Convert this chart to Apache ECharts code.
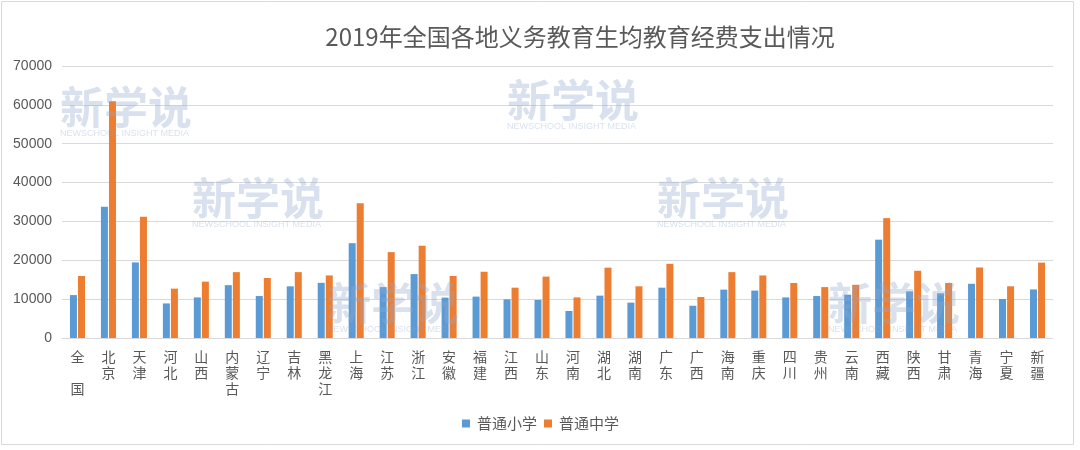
<!DOCTYPE html>
<html>
<head>
<meta charset="utf-8">
<script src="https://cdn.jsdelivr.net/npm/echarts@6/dist/echarts.min.js"></script>
<style>
html,body{margin:0;padding:0;background:#fff;}
#chart{width:1080px;height:450px;}
</style>
</head>
<body>
<div id="chart"></div>
<script>
var titleText = '2019年全国各地义务教育生均教育经费支出情况';
var categories = ['全 国','北京','天津','河北','山西','内蒙古','辽宁','吉林','黑龙江','上海','江苏','浙江','安徽','福建','江西','山东','河南','湖北','湖南','广东','广西','海南','重庆','四川','贵州','云南','西藏','陕西','甘肃','青海','宁夏','新疆'];
var primary = [11050,33800,19450,8900,10450,13600,10800,13300,14200,24400,13100,16450,10400,10650,9950,9800,6950,10900,9100,12950,8300,12450,12200,10450,10800,11150,25300,12000,11500,13950,10050,12500];
var secondary = [15950,60900,31200,12700,14500,16950,15450,16950,16100,34700,22100,23750,15950,17050,12950,15800,10450,18100,13300,19100,10550,16950,16100,14150,13100,13700,30850,17300,14150,18150,13300,19400];
var seriesNames = ['普通小学','普通中学'];
var yTicks = [0,10000,20000,30000,40000,50000,60000,70000];

var chart = echarts.init(document.getElementById('chart'));
var FONT = '"Noto Sans CJK SC", "Noto Sans", sans-serif';
var wmPos = [[60,92],[192,183],[507,85],[657,183],[327,288],[828,288]];
var graphics = [{
  type:'rect', shape:{x:1.5,y:1.5,width:1072,height:443},
  style:{fill:'none',stroke:'#d9d9d9',lineWidth:1}, z:0, silent:true
}];
wmPos.forEach(function(p){
  graphics.push({type:'text', left:p[0], top:p[1]-7, z:100, silent:true,
    style:{text:'新学说', font:'bold 44px "Noto Sans CJK SC"', fill:'rgba(145,168,205,0.34)'}});
  graphics.push({type:'text', left:p[0], top:p[1]+37, z:100, silent:true,
    style:{text:'NEWSCHOOL INSIGHT MEDIA', font:'9px "Liberation Sans", Arial, sans-serif', fill:'rgba(145,168,205,0.34)'}});
});

chart.setOption({
  animation:false,
  backgroundColor:'#ffffff',
  textStyle:{fontFamily:FONT},
  title:{
    text:titleText, left:575, top:20, textAlign:'center',
    textStyle:{fontSize:24, fontWeight:'normal', color:'#595959', fontFamily:FONT}
  },
  legend:{
    data:seriesNames, left:457, top:411, itemWidth:8, itemHeight:8, itemGap:7, icon:'rect',
    textStyle:{fontSize:15, color:'#595959', fontFamily:FONT, padding:[0,0,0,2]}
  },
  grid:{left:62, right:27, top:66, bottom:112, containLabel:false},
  xAxis:{
    type:'category', data:categories,
    axisLine:{lineStyle:{color:'#d9d9d9'}},
    axisTick:{show:false},
    axisLabel:{
      interval:0, margin:11, fontSize:14, lineHeight:16, color:'#595959', fontFamily:FONT,
      formatter:function(v){ return v.split('').join('\n'); }
    }
  },
  yAxis:{
    type:'value', min:yTicks[0], max:yTicks[yTicks.length-1], interval:10000,
    axisLine:{show:false}, axisTick:{show:false},
    axisLabel:{fontSize:14, color:'#595959', margin:10, fontFamily:'"Liberation Sans", Arial, sans-serif',
      formatter:function(v){ return String(v); }},
    splitLine:{lineStyle:{color:'#d9d9d9'}}
  },
  series:[
    {name:seriesNames[0], type:'bar', data:primary, barWidth:7, barGap:'15%',
     itemStyle:{color:'#5b9bd5'}},
    {name:seriesNames[1], type:'bar', data:secondary, barWidth:7, barGap:'15%',
     itemStyle:{color:'#ed7d31'}}
  ],
  graphic:graphics
});
</script>
</body>
</html>
